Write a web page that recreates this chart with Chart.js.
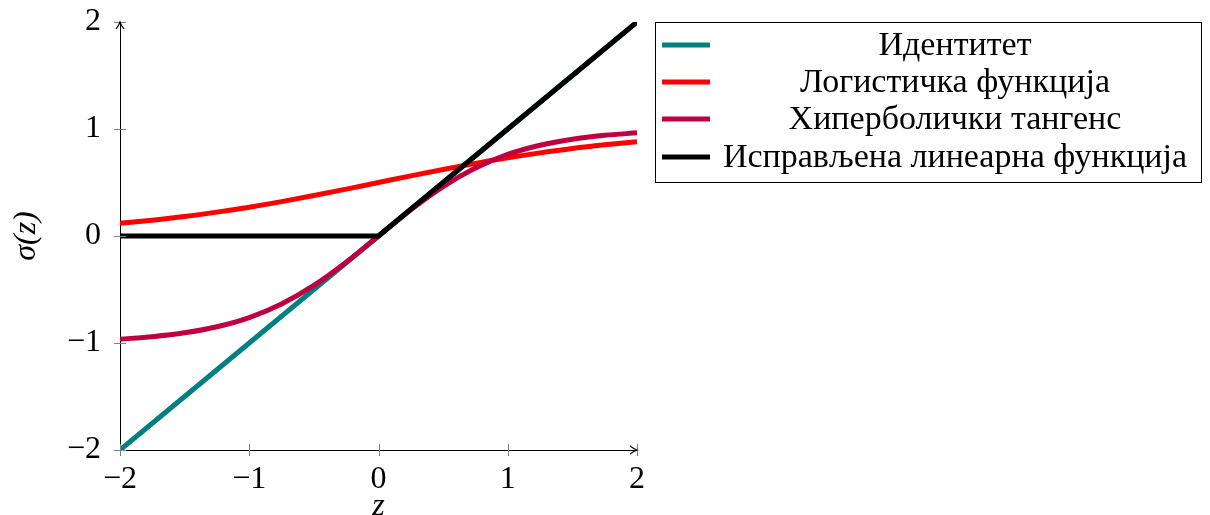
<!DOCTYPE html>
<html>
<head>
<meta charset="utf-8">
<script src="https://cdn.jsdelivr.net/npm/chart.js@4"></script>
<style>
    body { margin: 0; background: #fff; }
    #okvir { width: 1210px; height: 515px; }
</style>
</head>
<body>
<div id="okvir"><canvas id="grafik"></canvas></div>
<script>
// Vrednosti ocitane sa slike
const zTacke     = [-2, -1.75, -1.5, -1.25, -1, -0.75, -0.5, -0.25, 0, 0.25, 0.5, 0.75, 1, 1.25, 1.5, 1.75, 2];
const identitet  = [-2, -1.75, -1.5, -1.25, -1, -0.75, -0.5, -0.25, 0, 0.25, 0.5, 0.75, 1, 1.25, 1.5, 1.75, 2];
const logisticka = [0.119, 0.148, 0.182, 0.223, 0.269, 0.321, 0.378, 0.438, 0.500, 0.562, 0.622, 0.679, 0.731, 0.777, 0.818, 0.852, 0.881];
const tangens    = [-0.964, -0.941, -0.905, -0.848, -0.762, -0.635, -0.462, -0.245, 0, 0.245, 0.462, 0.635, 0.762, 0.848, 0.905, 0.941, 0.964];
const reluZ      = [-2, 0, 2];
const relu       = [0, 0, 2];
const nazivi     = ['Идентитет', 'Логистичка функција', 'Хиперболички тангенс', 'Исправљена линеарна функција'];
const boje       = ['#008080', '#ff0000', '#bf0040', '#000000'];
const xOznake    = [-2, -1, 0, 1, 2];
const yOznake    = [-2, -1, 0, 1, 2];

const FONT = 'Liberation Serif';
const VEL  = 32;   // oznake na osama
const LEG  = 34;   // legenda

const tacke = (xs, ys) => xs.map((x, i) => ({ x, y: ys[i] }));
const minus = v => String(v).replace('-', '\u2212');

// Crtice, strelice na osama i legenda
const dodaci = {
    id: 'dodaci',
    afterDraw(chart) {
        const ctx = chart.ctx;
        const xs = chart.scales.x, ys = chart.scales.y;
        const a = chart.chartArea;
        ctx.save();
        ctx.strokeStyle = '#808080';
        ctx.lineWidth = 1;
        xOznake.forEach(v => {
            const p = Math.round(xs.getPixelForValue(v)) + 0.5;
            ctx.beginPath(); ctx.moveTo(p, a.bottom - 6); ctx.lineTo(p, a.bottom + 6); ctx.stroke();
        });
        yOznake.forEach(v => {
            const p = Math.round(ys.getPixelForValue(v)) + 0.5;
            ctx.beginPath(); ctx.moveTo(a.left - 6, p); ctx.lineTo(a.left + 6, p); ctx.stroke();
        });
        // strelice
        ctx.strokeStyle = '#000';
        ctx.lineWidth = 1.2;
        ctx.beginPath();
        ctx.moveTo(a.right - 7, a.bottom - 4); ctx.quadraticCurveTo(a.right - 3, a.bottom - 1, a.right, a.bottom);
        ctx.quadraticCurveTo(a.right - 3, a.bottom + 1, a.right - 7, a.bottom + 4);
        ctx.moveTo(a.left - 4, a.top + 7); ctx.quadraticCurveTo(a.left - 1, a.top + 3, a.left, a.top);
        ctx.quadraticCurveTo(a.left + 1, a.top + 3, a.left + 4, a.top + 7);
        ctx.stroke();

        // legenda
        const lx = 655, ly = 22, lw = 546, lh = 160;
        const redovi = [45, 82, 119, 157];
        ctx.fillStyle = '#fff';
        ctx.fillRect(lx, ly, lw, lh);
        ctx.strokeStyle = '#000';
        ctx.lineWidth = 1;
        ctx.strokeRect(lx + 0.5, ly + 0.5, lw, lh);
        ctx.font = `${LEG}px "${FONT}"`;
        ctx.textAlign = 'center';
        ctx.textBaseline = 'alphabetic';
        chart.data.datasets.forEach((ds, i) => {
            const y = redovi[i];
            ctx.strokeStyle = ds.borderColor;
            ctx.lineWidth = 5;
            ctx.beginPath(); ctx.moveTo(662, y); ctx.lineTo(710, y); ctx.stroke();
            ctx.fillStyle = '#000';
            ctx.fillText(ds.label, 955, y + 10);
        });
        ctx.restore();
    }
};

new Chart(document.getElementById('grafik'), {
    type: 'scatter',
    data: {
        datasets: [
            { label: nazivi[0], data: tacke(zTacke, identitet),  borderColor: boje[0], order: 3 },
            { label: nazivi[1], data: tacke(zTacke, logisticka), borderColor: boje[1], order: 2, cubicInterpolationMode: 'monotone' },
            { label: nazivi[2], data: tacke(zTacke, tangens),    borderColor: boje[2], order: 1, cubicInterpolationMode: 'monotone' },
            { label: nazivi[3], data: tacke(reluZ, relu),        borderColor: boje[3], order: 0 }
        ].map(d => Object.assign({ showLine: true, borderWidth: 5, pointRadius: 0, backgroundColor: d.borderColor }, d))
    },
    options: {
        responsive: true,
        maintainAspectRatio: false,
        animation: false,
        layout: { padding: { top: 22, right: 573, bottom: 0, left: 0 } },
        plugins: { legend: { display: false }, tooltip: { enabled: false } },
        scales: {
            x: {
                type: 'linear', min: -2, max: 2,
                afterFit: s => { s.height = 65; },
                afterBuildTicks: s => { s.ticks = xOznake.map(v => ({ value: v })); },
                grid: { display: false, drawTicks: false },
                border: { display: true, color: '#000', width: 1 },
                ticks: { color: '#000', padding: 10, maxRotation: 0, font: { family: FONT, size: VEL }, callback: minus },
                title: { display: true, text: 'z', color: '#000', padding: 0,
                         font: { family: FONT, size: VEL, style: 'italic', lineHeight: 0.5 } }
            },
            y: {
                type: 'linear', min: -2, max: 2,
                afterFit: s => { s.width = 120; },
                afterBuildTicks: s => { s.ticks = yOznake.map(v => ({ value: v })); },
                grid: { display: false, drawTicks: false },
                border: { display: true, color: '#000', width: 1 },
                ticks: { color: '#000', padding: 19, font: { family: FONT, size: VEL, lineHeight: 0.1 }, callback: minus },
                title: { display: true, text: 'σ(z)', color: '#000', padding: { top: 11, bottom: 0 },
                         font: { family: FONT, size: VEL, style: 'italic', lineHeight: 1 } }
            }
        }
    },
    plugins: [dodaci]
});
</script>
</body>
</html>
